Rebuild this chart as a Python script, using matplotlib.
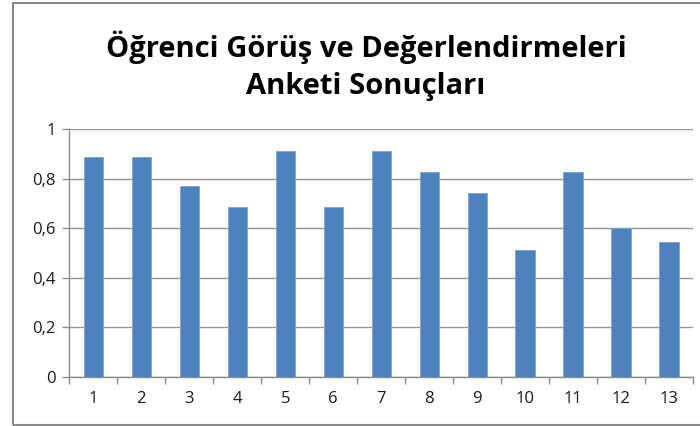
import matplotlib
matplotlib.use("Agg")
import matplotlib.pyplot as plt
from matplotlib.patches import Rectangle

categories = ["1", "2", "3", "4", "5", "6", "7", "8", "9", "10", "11", "12", "13"]
values = [0.886, 0.886, 0.771, 0.686, 0.914, 0.686, 0.914, 0.829, 0.743, 0.514, 0.829, 0.600, 0.543]
yticks = [0, 0.2, 0.4, 0.6, 0.8, 1.0]
ytick_labels = ["0", "0,2", "0,4", "0,6", "0,8", "1"]
title = "Öğrenci Görüş ve Değerlendirmeleri\nAnketi Sonuçları"

plt.rcParams['font.family'] = ['Open Sans', 'DejaVu Sans']

fig = plt.figure(figsize=(7.0, 4.26), dpi=100)
ax = fig.add_axes([0.099, 0.1157, 0.891, 0.5808])

x = list(range(len(categories)))
ax.bar(x, values, width=0.4, color="#4F81BD", edgecolor="#7FA3D3", linewidth=0.6, zorder=3)

ax.set_xlim(-0.5, len(categories) - 0.5)
ax.set_ylim(0, 1)
ax.set_yticks(yticks)
ax.set_yticklabels(ytick_labels)
ax.set_xticks(x)
ax.set_xticklabels(categories)
ax.set_xticks([i - 0.5 for i in range(len(categories) + 1)], minor=True)

ax.grid(axis="y", color="#969696", linewidth=1.0, zorder=0)
for s in ["top", "right"]:
    ax.spines[s].set_visible(False)
for s in ["left", "bottom"]:
    ax.spines[s].set_color("#8C8C8C")
    ax.spines[s].set_linewidth(1.0)

ax.tick_params(axis="x", which="major", length=0, pad=10, labelsize=12, labelcolor="#1a1a1a")
ax.tick_params(axis="x", which="minor", length=5, color="#8C8C8C", width=1.0)
ax.tick_params(axis="y", length=5, color="#8C8C8C", width=1.0, pad=5, labelsize=12, labelcolor="#1a1a1a")

fig.text(0.523, 0.846, title, ha="center", va="center", fontsize=21, fontweight="bold",
         linespacing=1.35, color="black")

fig.patches.append(Rectangle((0.0186, 0.0023), 1.2, 0.9907, transform=fig.transFigure,
                             fill=False, edgecolor="#888888", linewidth=1.5))

fig.savefig("out.png", dpi=100)
